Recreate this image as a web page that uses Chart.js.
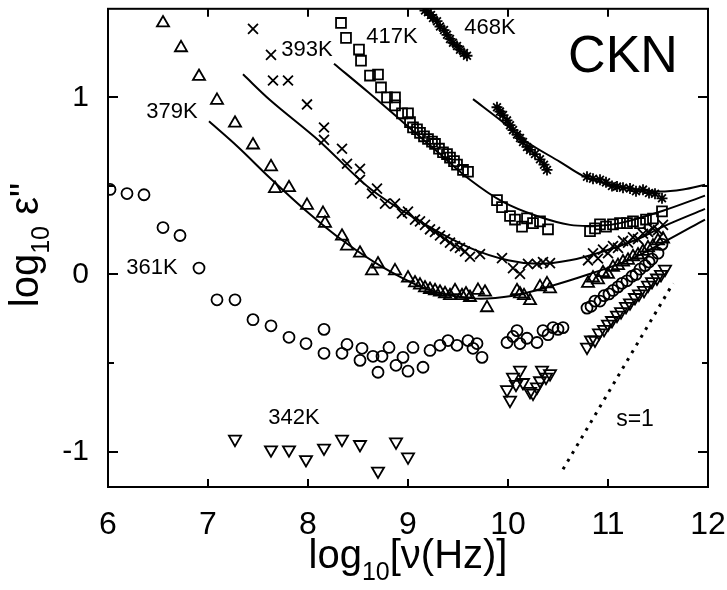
<!DOCTYPE html>
<html>
<head>
<meta charset="utf-8">
<script src="https://cdn.jsdelivr.net/npm/chart.js@4"></script>
<style>
  html, body { margin: 0; padding: 0; background: #fff; }
</style>
</head>
<body>
<canvas id="ckn" width="727" height="590"></canvas>
<script>
// log10(frecuencia) y log10(eps''), una pareja de arrays por temperatura
const f342 = [7.27, 7.63, 7.81, 7.98, 8.16, 8.34, 8.52, 8.70, 8.88, 9.00,
  9.99, 10.02, 10.05, 10.08, 10.12, 10.15, 10.22, 10.25, 10.29, 10.32, 10.34, 10.38, 10.42,
  10.79, 10.83, 10.87, 10.91, 10.96, 11.00, 11.04, 11.09, 11.13, 11.18, 11.22, 11.27, 11.31, 11.36, 11.40, 11.44, 11.49, 11.53, 11.57];
const e342 = [-0.93, -0.99, -0.99, -1.045, -0.98, -0.93, -0.96, -1.11, -0.945, -1.03,
  -0.65, -0.71, -0.58, -0.62, -0.54, -0.61, -0.66, -0.67, -0.635, -0.60, -0.54, -0.58, -0.56,
  -0.41, -0.37, -0.37, -0.33, -0.31, -0.28, -0.26, -0.23, -0.21, -0.18, -0.16, -0.13, -0.11, -0.09, -0.06, -0.04, -0.02, 0.0, 0.03];

const f361 = [6.02, 6.19, 6.36, 6.55, 6.72, 6.91, 7.09, 7.27, 7.45, 7.63, 7.81, 7.98, 8.16, 8.16, 8.34, 8.39,
  8.54, 8.52, 8.65, 8.70, 8.74, 8.81, 8.88, 8.95, 9.00, 9.05, 9.15, 9.22, 9.32, 9.40, 9.49, 9.60, 9.65, 9.69, 9.74,
  9.99, 10.05, 10.09, 10.12, 10.19, 10.29, 10.35, 10.40, 10.45, 10.50, 10.55,
  10.79, 10.83, 10.87, 10.92, 10.96, 11.01, 11.05, 11.10, 11.14, 11.19, 11.24, 11.28, 11.32, 11.37, 11.41, 11.44, 11.50, 11.54];
const e361 = [0.48, 0.457, 0.45, 0.265, 0.22, 0.036, -0.143, -0.143, -0.255, -0.29, -0.355, -0.39, -0.31, -0.445, -0.445, -0.395,
  -0.417, -0.485, -0.462, -0.552, -0.462, -0.412, -0.513, -0.468, -0.546, -0.412, -0.524, -0.429, -0.40, -0.373, -0.40, -0.373, -0.417, -0.39, -0.468,
  -0.384, -0.35, -0.317, -0.39, -0.36, -0.384, -0.317, -0.34, -0.30, -0.31, -0.30,
  -0.19, -0.18, -0.15, -0.15, -0.12, -0.11, -0.09, -0.07, -0.05, -0.036, -0.01, 0.0, 0.03, 0.05, 0.07, 0.087, 0.12, 0.17];

const f379 = [6.55, 6.73, 6.91, 7.09, 7.27, 7.45, 7.63, 7.67, 7.81, 7.99, 8.15, 8.17, 8.34, 8.39, 8.52, 8.64, 8.70, 8.87,
  9.00, 9.07, 9.12, 9.17, 9.22, 9.27, 9.32, 9.37, 9.42, 9.47, 9.54, 9.58, 9.62, 9.70, 9.77, 9.79,
  10.09, 10.12, 10.16, 10.22, 10.32, 10.39, 10.42,
  10.80, 10.85, 10.90, 10.95, 11.00, 11.05, 11.10, 11.15, 11.20, 11.25, 11.30, 11.35, 11.40, 11.45, 11.50, 11.55];
const e379 = [1.42, 1.28, 1.118, 0.983, 0.854, 0.731, 0.608, 0.485, 0.49, 0.39, 0.345, 0.289, 0.216, 0.16, 0.12, 0.02, 0.059, 0.02,
  -0.02, -0.048, -0.06, -0.076, -0.085, -0.092, -0.10, -0.109, -0.12, -0.092, -0.12, -0.11, -0.13, -0.09, -0.10, -0.188,
  -0.092, -0.11, -0.12, -0.148, -0.07, -0.053, -0.081,
  -0.05, -0.02, -0.03, 0.01, 0.0, 0.04, 0.05, 0.07, 0.08, 0.10, 0.11, 0.13, 0.15, 0.16, 0.19, 0.20];

const f393 = [7.45, 7.63, 7.65, 7.80, 7.99, 8.16, 8.16, 8.34, 8.39, 8.52, 8.52, 8.64, 8.69, 8.77, 8.87, 8.94,
  9.00, 9.07, 9.12, 9.17, 9.22, 9.27, 9.32, 9.37, 9.42, 9.47, 9.52, 9.57, 9.62, 9.72,
  9.94, 10.05, 10.12, 10.20, 10.29, 10.35, 10.42,
  10.80, 10.85, 10.90, 10.95, 11.00, 11.05, 11.10, 11.15, 11.20, 11.25, 11.30, 11.35, 11.40, 11.45, 11.50, 11.55];
const e393 = [1.387, 1.24, 1.095, 1.095, 0.96, 0.83, 0.76, 0.71, 0.625, 0.597, 0.535, 0.457, 0.485, 0.40, 0.40, 0.345,
  0.355, 0.31, 0.30, 0.28, 0.255, 0.24, 0.22, 0.20, 0.18, 0.16, 0.15, 0.13, 0.10, 0.115,
  0.092, 0.036, 0.003, 0.06, 0.059, 0.07, 0.064,
  0.08, 0.12, 0.09, 0.14, 0.12, 0.16, 0.15, 0.19, 0.18, 0.21, 0.20, 0.23, 0.24, 0.26, 0.25, 0.28];

const f417 = [8.33, 8.38, 8.51, 8.53, 8.62, 8.70, 8.73, 8.79, 8.87, 8.87, 8.94, 9.00, 9.02, 9.05,
  9.09, 9.12, 9.16, 9.20, 9.24, 9.27, 9.31, 9.35, 9.39, 9.42, 9.46, 9.49, 9.55, 9.60,
  9.89, 9.94, 10.02, 10.07, 10.14, 10.19, 10.25, 10.32, 10.40,
  10.82, 10.87, 10.92, 10.98, 11.05, 11.12, 11.19, 11.25, 11.32, 11.38, 11.45, 11.54];
const e417 = [1.42, 1.336, 1.27, 1.207, 1.123, 1.129, 1.056, 1.0, 1.0, 0.955, 0.91, 0.91, 0.86, 0.83,
  0.82, 0.80, 0.78, 0.765, 0.75, 0.737, 0.71, 0.69, 0.68, 0.66, 0.64, 0.62, 0.59, 0.58,
  0.42, 0.38, 0.33, 0.31, 0.27, 0.317, 0.29, 0.30, 0.255,
  0.244, 0.26, 0.283, 0.27, 0.283, 0.29, 0.29, 0.30, 0.29, 0.31, 0.316, 0.356];

const f468 = [9.17, 9.20, 9.23, 9.25, 9.29, 9.32, 9.36, 9.39, 9.42, 9.45, 9.49, 9.52, 9.56, 9.59,
  9.89, 9.92, 9.95, 9.99, 10.02, 10.05, 10.09, 10.12, 10.15, 10.19, 10.22, 10.27, 10.32, 10.36, 10.39,
  10.79, 10.85, 10.92, 10.98, 11.04, 11.09, 11.15, 11.22, 11.28, 11.35, 11.41, 11.47, 11.54];
const e468 = [1.49, 1.48, 1.465, 1.448, 1.43, 1.40, 1.38, 1.353, 1.33, 1.308, 1.29, 1.269, 1.25, 1.235,
  0.944, 0.92, 0.90, 0.87, 0.843, 0.815, 0.79, 0.77, 0.748, 0.72, 0.703, 0.68, 0.65, 0.62, 0.59,
  0.552, 0.54, 0.535, 0.52, 0.50, 0.496, 0.49, 0.485, 0.47, 0.479, 0.46, 0.456, 0.43];

// curvas de ajuste (lineas continuas)
const ajuste379X = [7.01, 7.30, 7.62, 8.00, 8.35, 8.75, 9.20, 9.65, 10.05, 10.40, 10.80, 11.20, 11.55, 11.97];
const ajuste379Y = [0.865, 0.72, 0.545, 0.35, 0.19, 0.04, -0.085, -0.135, -0.12, -0.07, 0.0, 0.08, 0.18, 0.31];
const ajuste393X = [7.35, 7.62, 8.12, 8.62, 9.12, 9.62, 10.00, 10.30, 10.62, 10.95, 11.30, 11.55, 11.97];
const ajuste393Y = [1.13, 0.985, 0.75, 0.485, 0.30, 0.15, 0.08, 0.06, 0.08, 0.13, 0.20, 0.27, 0.37];
const ajuste417X = [8.26, 8.60, 8.95, 9.30, 9.62, 9.95, 10.29, 10.62, 10.90, 11.12, 11.55, 11.97];
const ajuste417Y = [1.19, 1.03, 0.86, 0.69, 0.535, 0.41, 0.33, 0.28, 0.275, 0.29, 0.36, 0.445];
const ajuste468X = [9.65, 9.95, 10.19, 10.52, 10.75, 11.02, 11.30, 11.52, 11.75, 11.97];
const ajuste468Y = [0.99, 0.86, 0.748, 0.636, 0.557, 0.507, 0.48, 0.468, 0.48, 0.507];

// recta de pendiente s=1 (punteada)
const pendienteX = [10.55, 11.65];
const pendienteY = [-1.10, -0.05];

// marcas del eje
const ticksY = [-1, -0.5, 0, 0.5, 1];
const ticksX = [7, 8, 9, 10, 11];

// textos dentro del grafico, en coordenadas de datos
const etiquetas = [
  { texto: '379K', x: 6.64, y: 0.916, size: 22 },
  { texto: '361K', x: 6.44, y: 0.036, size: 22 },
  { texto: '342K', x: 7.86, y: -0.81, size: 22 },
  { texto: '393K', x: 7.99, y: 1.27, size: 22 },
  { texto: '417K', x: 8.84, y: 1.34, size: 22 },
  { texto: '468K', x: 9.82, y: 1.39, size: 22 },
  { texto: 'CKN', x: 11.15, y: 1.224, size: 52 },
  { texto: 's=1', x: 11.27, y: -0.82, size: 23 }
];

const FUENTE = "'Liberation Sans', Arial, Helvetica, sans-serif";

function pares(xs, ys) {
  return xs.map((x, i) => ({ x: x, y: ys[i] }));
}

function puntos(datos, estilo, radio, rotacion) {
  return {
    data: datos,
    showLine: false,
    pointStyle: estilo,
    pointRadius: radio,
    pointRotation: rotacion || 0,
    pointBorderWidth: 1.8,
    pointBorderColor: '#000',
    pointBackgroundColor: 'rgba(0,0,0,0)',
    clip: 0
  };
}

function curva(datos) {
  return {
    data: datos,
    showLine: true,
    pointRadius: 0,
    borderColor: '#000',
    borderWidth: 2,
    tension: 0.35,
    fill: false,
    clip: 0
  };
}

// sin margenes extra de las etiquetas de los extremos
function sinPadding(scale) {
  scale.paddingLeft = 0; scale.paddingRight = 0;
  scale.paddingTop = 0; scale.paddingBottom = 0;
}

const marcoPlugin = {
  id: 'marco',
  afterDatasetsDraw(chart) {
    const ctx = chart.ctx;
    const a = chart.chartArea;
    const sx = chart.scales.x, sy = chart.scales.y;
    ctx.save();
    ctx.strokeStyle = '#000';
    ctx.lineWidth = 2;
    ctx.strokeRect(a.left, a.top, a.right - a.left, a.bottom - a.top);
    ctx.beginPath();
    ticksX.forEach(v => {
      const px = Math.round(sx.getPixelForValue(v));
      ctx.moveTo(px, a.bottom); ctx.lineTo(px, a.bottom - 8);
      ctx.moveTo(px, a.top); ctx.lineTo(px, a.top + 8);
    });
    ticksY.forEach(v => {
      const py = Math.round(sy.getPixelForValue(v));
      const len = Number.isInteger(v) ? 10 : 6;
      ctx.moveTo(a.left, py); ctx.lineTo(a.left + len, py);
      ctx.moveTo(a.right, py); ctx.lineTo(a.right - len, py);
    });
    ctx.stroke();
    ctx.restore();
  },
  afterDraw(chart) {
    const ctx = chart.ctx;
    const sx = chart.scales.x, sy = chart.scales.y;
    ctx.save();
    ctx.fillStyle = '#000';
    ctx.textAlign = 'center';
    ctx.textBaseline = 'middle';
    etiquetas.forEach(e => {
      ctx.font = e.size + 'px ' + FUENTE;
      ctx.fillText(e.texto, sx.getPixelForValue(e.x), sy.getPixelForValue(e.y));
    });

    // titulo eje x: log10[v(Hz)]
    ctx.textAlign = 'left';
    ctx.textBaseline = 'alphabetic';
    const grande = '40px ' + FUENTE, chica = '25px ' + FUENTE;
    ctx.font = grande; const w1 = ctx.measureText('log').width, w3 = ctx.measureText('[\u03bd(Hz)]').width;
    ctx.font = chica; const w2 = ctx.measureText('10').width;
    let x0 = (chart.chartArea.left + chart.chartArea.right) / 2 - (w1 + w2 + w3) / 2;
    const base = 568;
    ctx.font = grande; ctx.fillText('log', x0, base);
    ctx.font = chica; ctx.fillText('10', x0 + w1, base + 12);
    ctx.font = grande; ctx.fillText('[\u03bd(Hz)]', x0 + w1 + w2, base);

    // titulo eje y: log10 e''
    ctx.font = grande; const v1 = ctx.measureText('log').width, v3 = ctx.measureText(' \u03b5"').width;
    ctx.font = chica; const v2 = ctx.measureText('10').width;
    const total = v1 + v2 + v3;
    ctx.translate(38, 245 + total / 2);
    ctx.rotate(-Math.PI / 2);
    ctx.font = grande; ctx.fillText('log', 0, 0);
    ctx.font = chica; ctx.fillText('10', v1, 11);
    ctx.font = grande; ctx.fillText(' \u03b5"', v1 + v2, 0);
    ctx.restore();
  }
};

new Chart(document.getElementById('ckn'), {
  type: 'scatter',
  data: {
    datasets: [
      puntos(pares(f342, e342), 'triangle', 7, 180),
      puntos(pares(f361, e361), 'circle', 5.5),
      puntos(pares(f379, e379), 'triangle', 7),
      puntos(pares(f393, e393), 'crossRot', 7),
      puntos(pares(f417, e417), 'rect', 7),
      puntos(pares(f468, e468), 'star', 5.5),
      curva(pares(ajuste379X, ajuste379Y)),
      curva(pares(ajuste393X, ajuste393Y)),
      curva(pares(ajuste417X, ajuste417Y)),
      curva(pares(ajuste468X, ajuste468Y)),
      Object.assign(curva(pares(pendienteX, pendienteY)), { borderDash: [3, 6], borderWidth: 3, tension: 0 })
    ]
  },
  options: {
    responsive: false,
    animation: false,
    events: [],
    devicePixelRatio: 1,
    layout: { padding: { left: 0, right: 19, top: 6, bottom: 0 } },
    plugins: { legend: { display: false }, tooltip: { enabled: false } },
    scales: {
      x: {
        type: 'linear', min: 6, max: 12,
        grid: { display: false }, border: { display: false },
        ticks: { stepSize: 1, color: '#000', padding: 11, maxRotation: 0, autoSkip: false,
          font: { family: FUENTE, size: 32 } },
        afterFit(scale) { scale.height = 103; sinPadding(scale); }
      },
      y: {
        type: 'linear', min: -1.2, max: 1.5,
        grid: { display: false }, border: { display: false },
        ticks: { stepSize: 0.5, color: '#000', padding: 11, autoSkip: false,
          font: { family: FUENTE, size: 30 },
          callback: v => Number.isInteger(v) ? String(v) : '' },
        afterFit(scale) { scale.width = 108; sinPadding(scale); }
      }
    }
  },
  plugins: [marcoPlugin]
});
</script>
</body>
</html>
